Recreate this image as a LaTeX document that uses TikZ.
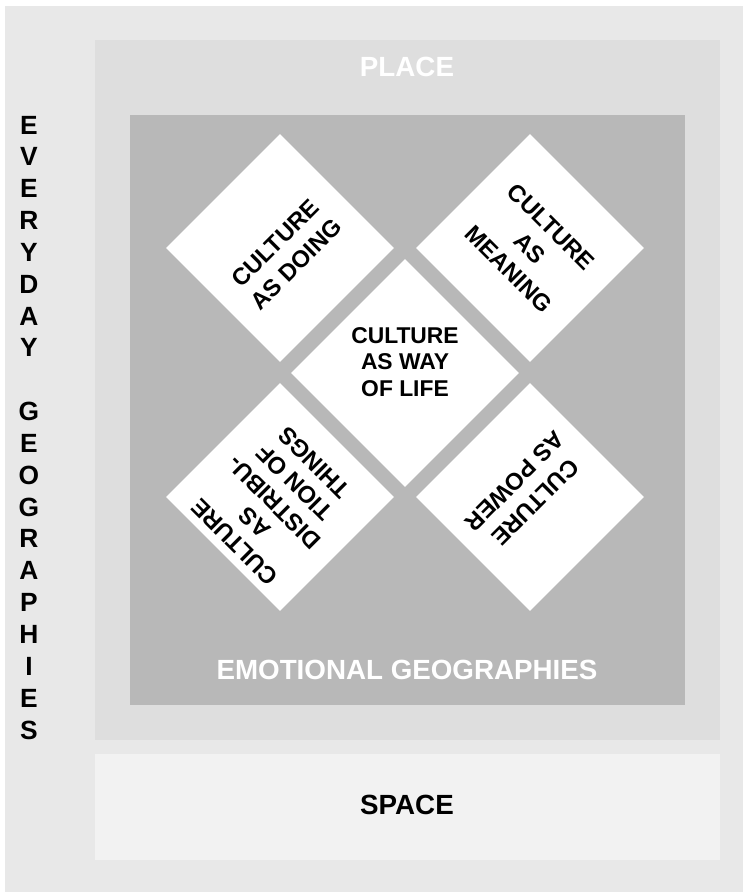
\documentclass[tikz,border=0pt]{standalone}
\usepackage{fontspec}
\setmainfont{Liberation Sans}
\usetikzlibrary{shapes.geometric}
\definecolor{outergray}{HTML}{E8E8E8}
\definecolor{placegray}{HTML}{DEDEDE}
\definecolor{emogray}{HTML}{B8B8B8}
\definecolor{spacegray}{HTML}{F2F2F2}
\begin{document}
\begin{tikzpicture}[x=0.02cm,y=-0.02cm,
    tile/.style={rectangle, fill=white, minimum size=3.22cm, inner sep=0pt,
      align=center, font=\fontsize{13.5}{17}\selectfont\bfseries},
    boxtext/.style={font=\fontsize{15.8}{18}\selectfont\bfseries},
    letter/.style={font=\fontsize{15}{18}\selectfont\bfseries}]
    \useasboundingbox (0,0) rectangle (743,892);
    % Draw frames
    \fill[outergray] (5,6) rectangle (743,892);
    \fill[placegray] (95,40) rectangle (720,740);
    \fill[emogray] (130,115) rectangle (685,705);
    \fill[spacegray] (95,754) rectangle (720,860);

    \node[boxtext, text=white] (place) at (407,67) {PLACE};
    \node[boxtext, text=white] (emotional) at (407,670) {EMOTIONAL GEOGRAPHIES};
    \node[boxtext] (space) at (407,805) {SPACE};

    % Side letters
    \foreach \ch [count=\i from 0] in {E,V,E,R,Y,D,A,Y}
      \node[letter] (ev\i) at (29,125+\i*31.84) {\ch};
    \foreach \ch [count=\i from 9] in {G,E,O,G,R,A,P,H,I,E,S}
      \node[letter] (geo\i) at (29,125+\i*31.84) {\ch};

    % Draw diamonds
    \node[tile, rotate=45] (doing) at (280,248) {\rule{0pt}{18.7pt}CULTURE\\AS DOING};
    \node[tile, rotate=-45] (meaning) at (530,248) {CULTURE\\AS\\MEANING};
    \node[tile, diamond, aspect=1, minimum size=4.56cm, font=\fontsize{13}{15}\selectfont\bfseries]
      (life) at (405,373) {CULTURE\\AS WAY\\OF LIFE\rule[-12.5pt]{0pt}{0pt}};
    \node[tile, rotate=135, font=\fontsize{13.5}{16}\selectfont\bfseries]
      (distrib) at (280,497) {CULTURE\\AS\\DISTRIBU-\\TION OF\\THINGS\rule[-9pt]{0pt}{0pt}};
    \node[tile, rotate=-135] (power) at (530,497) {\rule{0pt}{17.7pt}CULTURE\\AS POWER};
\end{tikzpicture}
\end{document}
